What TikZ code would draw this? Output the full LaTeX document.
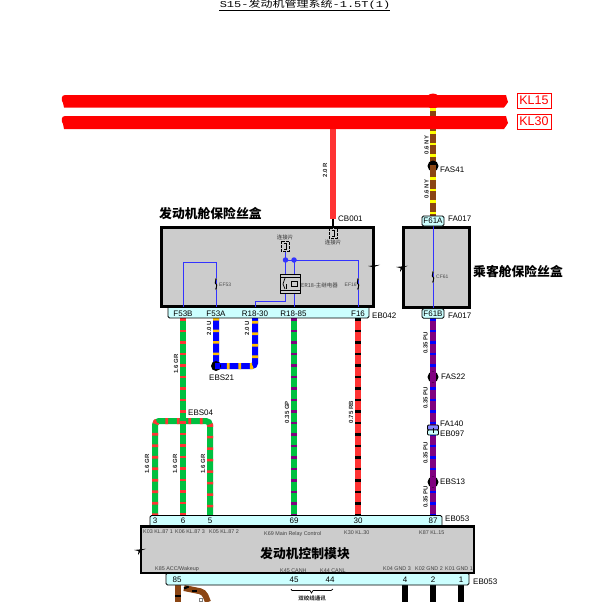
\documentclass[tikz,border=0pt]{standalone}
\usepackage{fontspec}
\setmainfont{Liberation Sans}
\newfontfamily\cjk{Noto Sans CJK SC}
\newfontfamily\monof{Liberation Mono}
\newcommand\fs[1]{\fontsize{#1}{#1}\selectfont}
\definecolor{grayfill}{HTML}{CCCCCC}
\definecolor{pincyan}{HTML}{CCFFFF}
\definecolor{cblue}{HTML}{3333FF}
\definecolor{wgreen}{HTML}{00C040}
\definecolor{wred}{HTML}{FF3333}
\definecolor{wbrown}{HTML}{8B4513}
\definecolor{wyellow}{HTML}{FFFF00}
\definecolor{worange}{HTML}{FFC000}
\definecolor{wpurple}{HTML}{800080}
\tikzset{
  wirebase/.style n args={2}{line width=6pt,color=#2,dash pattern=on 2.7pt off 8.8pt,preaction={draw=#1,solid,line width=6pt}},
  wireGR/.style={wirebase={wgreen}{wred}},
  wireGP/.style={wirebase={wgreen}{wpurple}},
  wireRB/.style={wirebase={wred}{black}},
  wireBY/.style={wirebase={blue}{worange}},
  wirePU/.style={wirebase={wpurple}{blue}},
  wireNY/.style={wirebase={wbrown}{wyellow}},
  wireR/.style={line width=6pt,color=wred},
  wireK/.style={line width=6pt,color=black},
  fbox/.style={draw=black,line width=3pt,fill=grayfill},
  pinstrip/.style={draw=black,line width=.8pt,fill=pincyan,rounded corners=1.5pt},
  pin/.style={font=\fs{8},inner sep=0pt,anchor=center},
  lab/.style={font=\fs{8},inner sep=0pt,anchor=west},
  wlab/.style={font=\fs{6}\bfseries,rotate=90,inner sep=0pt,text=black!85},
  klab/.style={font=\fs{5.4},inner sep=0pt,anchor=west,text=black!75},
  cn/.style={font=\cjk\bfseries\fs{12.8},inner sep=0pt,anchor=west},
  cnsmall/.style={font=\cjk\fs{5.5},inner sep=0pt,text=black!80},
  tiny/.style={font=\fs{5},inner sep=0pt,anchor=west,text=black!70},
  ibl/.style={color=cblue,line width=.9pt},
  jct/.style={circle,fill=cblue,inner sep=0pt,minimum size=5.5pt},
  splice/.style={circle,fill=black,inner sep=0pt,minimum size=#1},
  busbar/.style={fill=red,draw=none},
  klbox/.style={draw=red,line width=.8pt,fill=white,text=red,font=\fs{12.5},inner sep=0pt,minimum width=34pt,minimum height=15pt},
}
\newcommand\fuse[2]{%
  \fill[black!60] (#1,#2-5) circle (1.1pt) (#1,#2+5) circle (1.1pt);
  \draw[black,line width=.9pt] (#1,#2-5) -- (#1-.8,#2-1) -- (#1+.8,#2+1) -- (#1,#2+5);}
\newcommand\bolt[2]{%
  \fill[black] (#1,#2) -- (#1+12,#2-1.2) -- (#1+7,#2+.6) -- (#1+4,#2+5) -- (#1+4.5,#2+1) -- cycle;}
\newcommand\linkpiece[2]{%
  \fill[grayfill] (#1-4,#2-5) rectangle (#1+4,#2+5);
  \draw[black,line width=1pt,dash pattern=on 3pt off 1pt] (#1-4,#2-5) rectangle (#1+4,#2+5);
  \draw[black,line width=.9pt] (#1-1.5,#2-3) -- (#1+1,#2-3) -- (#1+1,#2+3) -- (#1-1.5,#2+3);}
\begin{document}
\begin{tikzpicture}[x=1pt,y=-1pt]
\useasboundingbox (0,0) rectangle (601,602);

% title
\node[inner sep=0pt,font=\fs{12}] (title) at (305,5) {\scalebox{1}[.75]{\monof S15-\cjk 发动机管理系统\monof -1.5T(1)}};
\draw[black,line width=.7pt] (219,10.5) -- (390,10.5);

% coordinates for wire ends
\coordinate (kl15j) at (433,101);
\coordinate (kl30j) at (333,122);
\coordinate (cb) at (333,219);
\coordinate (f61a) at (433,217);
\coordinate (f61b) at (433,318);
\coordinate (fF53B) at (183,318);
\coordinate (fF53A) at (216,318);
\coordinate (fR30) at (255,318);
\coordinate (fR85) at (294,318);
\coordinate (fF16) at (358,318);
\coordinate (p3) at (155,516);
\coordinate (p6) at (183,516);
\coordinate (p5) at (210,516);
\coordinate (p69) at (294,516);
\coordinate (p30) at (358,516);
\coordinate (p87) at (433,516);
\coordinate (ebs04) at (183,421);
\coordinate (ebs21) at (216,366);
\coordinate (b4) at (405,602);
\coordinate (b2) at (433,602);
\coordinate (b1) at (461,602);
\coordinate (t4) at (405,585);
\coordinate (t2) at (433,585);
\coordinate (t1) at (461,585);
\coordinate (t85) at (177.5,585);
\coordinate (b85) at (177.5,602);
\coordinate (t85b) at (184,588);
\coordinate (b85b) at (208,602);

% KL15 bar, then the wire leaving it, then the KL30 bar over that wire
\draw[wireR] (333,125) -- (cb);
\draw[black,line width=2pt] (cb) -- (333,227);
\fill[busbar] (65,95) .. controls (61,95) and (61,100) .. (63,103) -- (64,107.5) -- (504,107.5)
  .. controls (506,105) and (507,104) .. (508,102) .. controls (506,100) and (508,98) .. (506,95) -- cycle;
\node[busbar,circle,inner sep=0pt,minimum size=15pt] (kl15dot) at (kl15j) {};
\draw[wireNY] (433,108) -- (f61a);
\fill[busbar] (65,116) .. controls (61,116) and (61,121) .. (63,124) -- (64,129) -- (504,129)
  .. controls (506,126) and (507,125) .. (508,123) .. controls (506,121) and (508,119) .. (506,116) -- cycle;
\node[klbox] (kl15) at (534,100.5) {KL15};
\node[klbox] (kl30) at (534,121.5) {KL30};

\draw[wireGR] (fF53B) -- (ebs04);
\draw[wireGR,rounded corners=4pt] (p3) -- (155,421) -- (210,421) -- (p5);
\draw[wireGR] (ebs04) -- (p6);
\draw[wireBY,rounded corners=3pt] (fF53A) -- (ebs21) -- (255,366) -- (fR30);
\draw[wireGP] (fR85) -- (p69);
\draw[wireRB] (fF16) -- (p30);
\draw[wirePU] (f61b) -- (p87);
\draw[wireK] (t4) -- (b4);
\draw[wireK] (t2) -- (b2);
\draw[wireK] (t1) -- (b1);
\draw[wbrown,line width=6pt] (t85) -- (b85);
\draw[black,line width=6pt] (177.5,594.5) -- (177.5,596.5);
\draw[wbrown,line width=6pt,rounded corners=4pt] (t85b) -- (204,592) -- (b85b);
\draw[black,line width=5pt] (186,586.5) -- (186.8,588.5);
\draw[black,line width=5pt] (194.5,589.5) -- (194.5,592);

% wire labels
\node[wlab] (w1) at (325,170) {2.0 R};
\node[wlab] (w2) at (426.5,145) {0.6 NY};
\node[wlab] (w3) at (426.5,189) {0.6 NY};
\node[wlab] (w4) at (176,364) {1.6 GR};
\node[wlab] (w5) at (147,464) {1.6 GR};
\node[wlab] (w6) at (175,464) {1.6 GR};
\node[wlab] (w7) at (203,464) {1.6 GR};
\node[wlab] (w8) at (209,328) {2.0 U};
\node[wlab] (w9) at (247,328) {2.0 U};
\node[wlab] (w10) at (287,412) {0.35 GP};
\node[wlab] (w11) at (351,412) {0.75 RB};
\node[wlab] (w12) at (425.5,343) {0.35 PU};
\node[wlab] (w13) at (425.5,398) {0.35 PU};
\node[wlab] (w14) at (425.5,453) {0.35 PU};
\node[wlab] (w15) at (425.5,497) {0.35 PU};

% splices
\node[splice=11pt] (fas41) at (433,166) {};
\draw[wbrown,line width=6pt] (433,165) -- (433,172);
\node[lab] (fas41t) at (440,170) {FAS41};
\node[splice=11pt] (fas22) at (433,377) {};
\draw[wpurple,line width=6pt] (433,372) -- (433,382);
\node[lab] (fas22t) at (441,377) {FAS22};
\node[splice=11pt] (ebs13) at (433,482) {};
\draw[wpurple,line width=6pt] (433,477) -- (433,487);
\node[lab] (ebs13t) at (440,482) {EBS13};
\node[splice=10pt] (ebs21d) at (ebs21) {};
\fill[blue] (ebs21) ++(-1,-3) rectangle ++(5,6);
\node[lab] (ebs21t) at (209,378) {EBS21};
\node[lab] (ebs04t) at (188,413) {EBS04};
% inline connector
\node[draw=black,line width=.8pt,fill=cblue!60,rounded corners=1pt,minimum width=11pt,minimum height=5pt,inner sep=0pt] (fa140) at (433,427.5) {};
\node[draw=black,line width=.8pt,fill=pincyan,rounded corners=1pt,minimum width=11pt,minimum height=5pt,inner sep=0pt] (eb097) at (433,432.5) {};
\draw[black,line width=1pt] (fa140.center) -- (eb097.center);
\node[lab] (fa140t) at (440,424) {FA140};
\node[lab] (eb097t) at (440,433.5) {EB097};

% engine fuse box
\draw[fbox] (161,227.5) rectangle (373,306.5);
\node[cn,anchor=west] (efb) at (159,214) {发动机舱保险丝盒};
\node[lab] (cb001) at (338,219) {CB001};
\bolt{368}{266}
\linkpiece{333}{233}
\node[cnsmall] (lp1) at (333,242) {连接片};
\draw[ibl] (285.5,251) -- (285.5,274);
\linkpiece{285}{246}
\node[cnsmall] (lp2) at (285,237) {连接片};
\draw[ibl] (183,307) -- (183,262.5) -- (216,262.5) -- (216,307);
\draw[ibl] (294,260) -- (358,260) -- (358,307);
\draw[ibl] (285.5,260) -- (294,260);
\draw[ibl] (294,260) -- (294,307);
\draw[ibl] (285.5,293) -- (285.5,301) -- (255,301) -- (255,307);
\node[jct] (j1) at (285.5,260) {};
\node[jct] (j2) at (294,260) {};
\fuse{216}{284}
\fuse{358}{284}
\node[tiny] (ef53) at (219,285) {EF53};
\node[tiny] (ef16) at (344.5,285) {EF16};
\node[draw=black,line width=1pt,fill=grayfill,minimum width=20pt,minimum height=19pt,inner sep=0pt] (relay) at (290,283.5) {};
\draw[black,line width=.7pt] (280,277) -- (300,277) (280,290) -- (300,290);
\draw[black,line width=.7pt] (285,278) -- (283,284) -- (285,289);
\draw[black,line width=.7pt,fill=grayfill] (291,281) rectangle (297,286);
\draw[black,line width=.7pt] (286,289) -- (286,284);
\node[anchor=west,inner sep=0pt,font=\cjk\fs{5.5},text=black!75] (er18) at (301,285) {ER18-主继电器};

\fill[pincyan] (168,308) rectangle (369,318);
\draw[pinstrip,fill=none] (168,306.5) -- (168,318) -- (369,318) -- (369,306.5);
\node[pin] (nF53B) at (183,314) {F53B};
\node[pin] (nF53A) at (216,314) {F53A};
\node[pin] (nR30) at (255,314) {R18-30};
\node[pin] (nR85) at (293.5,314) {R18-85};
\node[pin] (nF16) at (358,314) {F16};
\node[lab] (eb042) at (372,316) {EB042};

% cabin fuse box
\draw[fbox] (403,227) rectangle (469.5,307.5);
\draw[ibl] (433,226) -- (433,308);
\fuse{433}{277}
\node[tiny] (cf61) at (436,277) {CF61};
\bolt{396}{267}
\node[draw=black,line width=.8pt,fill=pincyan,rounded corners=1.5pt,minimum width=22pt,minimum height=10pt,inner sep=0pt,font=\fs{8}] (F61A) at (433,221) {F61A};
\node[draw=black,line width=.8pt,fill=pincyan,rounded corners=1.5pt,minimum width=22pt,minimum height=9.5pt,inner sep=0pt,font=\fs{8}] (F61B) at (433,313.5) {F61B};
\node[lab] (fa017a) at (448,219) {FA017};
\node[lab] (fa017b) at (448,316) {FA017};
\node[cn] (cfb) at (473,272) {乘客舱保险丝盒};

% ECM
\draw[pinstrip,fill=pincyan] (150,527) -- (150,515.5) -- (442,515.5) -- (442,527) -- cycle;
\node[pin] (n3) at (155,521) {3};
\node[pin] (n6) at (183,521) {6};
\node[pin] (n5) at (210,521) {5};
\node[pin] (n69) at (294,521) {69};
\node[pin] (n30) at (358,521) {30};
\node[pin] (n87) at (433,521) {87};
\node[lab] (eb053a) at (445,519) {EB053};
\draw[pinstrip,fill=pincyan] (166,573) -- (166,585) -- (469,585) -- (469,573) -- cycle;
\node[pin] (n85) at (177,580) {85};
\node[pin] (n45) at (294,580) {45};
\node[pin] (n44) at (330,580) {44};
\node[pin] (n4) at (405,580) {4};
\node[pin] (n2) at (433,580) {2};
\node[pin] (n1) at (461,580) {1};
\node[lab] (eb053b) at (473,582) {EB053};
\fill[grayfill] (140,526) rectangle (475,574);
\draw[black,line width=2.5pt] (141,526.5) -- (474,526.5) -- (474,573) -- (141,573) -- cycle;
\bolt{134}{550}
\node[klab] (k03) at (143,532) {K03 KL.87 1};
\node[klab] (k06) at (175,532) {K06 KL.87 3};
\node[klab] (k05) at (209,532) {K05 KL.87 2};
\node[klab] (k69) at (264,534) {K69 Main Relay Control};
\node[klab] (k30) at (344,533) {K30 KL.30};
\node[klab] (k87) at (419,533) {K87 KL.15};
\node[cn,anchor=center] (ecm) at (305,554) {发动机控制模块};
\node[klab] (k85) at (155,569) {K85 ACC/Wakeup};
\node[klab] (k45) at (280,571) {K45 CANH};
\node[klab] (k44) at (320,571) {K44 CANL};
\node[klab] (k04) at (383,569) {K04 GND 3};
\node[klab] (k02) at (415,569) {K02 GND 2};
\node[klab] (k01) at (445,568.5) {K01 GND 1};
% twisted pair brace
\draw[black,line width=.7pt] (291,589) -- (292,590.5) -- (310,590.5) -- (311.5,593) -- (313,590.5) -- (331,590.5) -- (333,589);
\node[cnsmall,font=\cjk\bfseries\fs{5.5}] (tw) at (312,598) {双绞线通讯};
\node[draw=black!50,fill=white,line width=.5pt,inner sep=0pt,minimum size=3pt] (smallc) at (201,600) {};
\end{tikzpicture}
\end{document}
